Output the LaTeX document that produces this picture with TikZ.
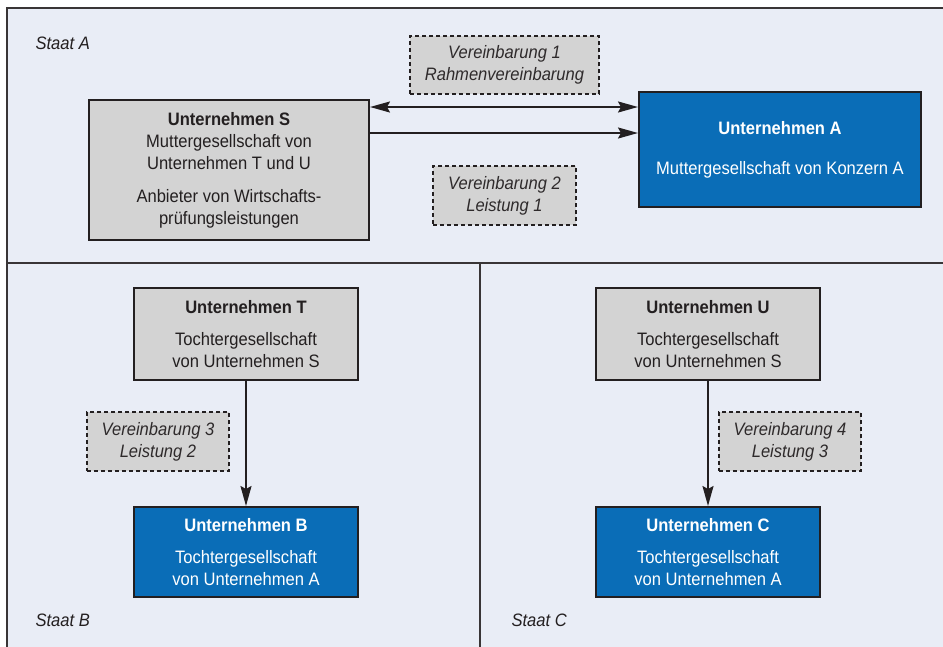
\documentclass[tikz,border=0pt]{standalone}
\usepackage{fontspec}
\setmainfont{Liberation Sans}[FakeStretch=0.92]
\usetikzlibrary{arrows.meta}

\definecolor{bgpanel}{HTML}{E9EDF6}
\definecolor{boxgray}{HTML}{D3D3D3}
\definecolor{boxblue}{HTML}{0A6DB7}
\definecolor{ink}{HTML}{231F20}

\tikzset{
  txt/.style={font=\fontsize{18}{22}\selectfont},
  frame/.style={draw=ink!90, line width=2pt},
  graybox/.style={draw=ink, line width=2pt, fill=boxgray, text=ink,
    align=center, inner sep=0pt, txt},
  bluebox/.style={draw=ink, line width=2pt, fill=boxblue, text=white,
    align=center, inner sep=0pt, txt},
  dealbox/.style={draw=ink, line width=1.8pt, dash pattern=on 4pt off 3pt,
    fill=boxgray, text=ink!95, align=center, inner sep=0pt,
    font=\fontsize{18}{22}\selectfont\itshape},
  statelabel/.style={anchor=base west, text=ink, font=\fontsize{18}{22}\selectfont\itshape},
  link/.style={draw=ink, line width=2pt, -{Stealth[length=20pt,width=11pt,inset=3pt]}},
  biglink/.style={draw=ink, line width=2pt,
    {Stealth[length=20pt,width=11pt,inset=3pt]}-{Stealth[length=20pt,width=11pt,inset=3pt]}}
}

\begin{document}
\begin{tikzpicture}[x=1pt,y=-1pt]
\useasboundingbox (0,0) rectangle (943,646);
\fill[white] (0,0) rectangle (943,646);

% country panels
\fill[bgpanel] (7,8) rectangle (950,660);
\draw[frame] (7,660) -- (7,8) -- (950,8);
\draw[frame] (7,263) -- (950,263);
\draw[frame] (479.5,263) -- (479.5,660);

\node[statelabel] (sa) at (32,49) {Staat A};
\node[statelabel] (sb) at (32,626) {Staat B};
\node[statelabel] (sc) at (508,626) {Staat C};

% companies
\node[graybox, minimum width=280pt, minimum height=140pt] (S) at (229,170)
  {\textbf{Unternehmen S}\\Muttergesellschaft von\\Unternehmen T und U\\[11pt]
   Anbieter von Wirtschafts-\\prüfungsleistungen};
\node[bluebox, minimum width=282pt, minimum height=115pt] (A) at (780,149.5)
  {\textbf{Unternehmen A}\\[18pt]Muttergesellschaft von Konzern A};
\node[graybox, minimum width=224pt, minimum height=92pt] (T) at (246,334)
  {\textbf{Unternehmen T}\\[10pt]Tochtergesellschaft\\von Unternehmen S};
\node[graybox, minimum width=224pt, minimum height=92pt] (U) at (708,334)
  {\textbf{Unternehmen U}\\[10pt]Tochtergesellschaft\\von Unternehmen S};
\node[bluebox, minimum width=224pt, minimum height=90pt] (B) at (246,552)
  {\textbf{Unternehmen B}\\[10pt]Tochtergesellschaft\\von Unternehmen A};
\node[bluebox, minimum width=224pt, minimum height=90pt] (C) at (708,552)
  {\textbf{Unternehmen C}\\[10pt]Tochtergesellschaft\\von Unternehmen A};

% agreements
\node[dealbox, minimum width=189pt, minimum height=58pt] (v1) at (504.5,65)
  {Vereinbarung 1\\Rahmenvereinbarung};
\node[dealbox, minimum width=143pt, minimum height=59pt] (v2) at (504.5,195.5)
  {Vereinbarung 2\\Leistung 1};
\node[dealbox, minimum width=142pt, minimum height=59pt] (v3) at (158,441.5)
  {Vereinbarung 3\\Leistung 2};
\node[dealbox, minimum width=142pt, minimum height=59pt] (v4) at (790,441.5)
  {Vereinbarung 4\\Leistung 3};

% relations
\draw[biglink] (S.east |- 0,107) -- (A.west |- 0,107);
\draw[link] (S.east |- 0,133) -- (A.west |- 0,133);
\draw[link] (T) -- (B);
\draw[link] (U) -- (C);
\end{tikzpicture}
\end{document}
